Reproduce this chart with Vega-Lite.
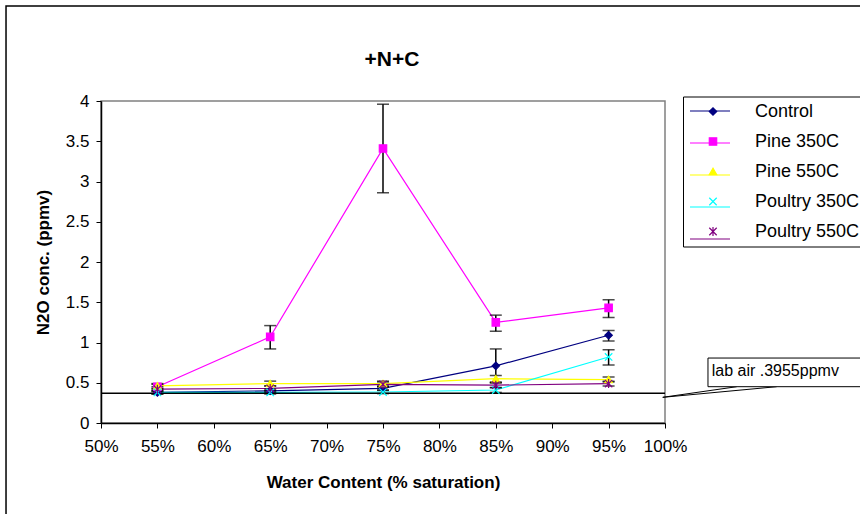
{
  "$schema": "https://vega.github.io/schema/vega-lite/v6.json",
  "width": 564,
  "height": 322,
  "autosize": {"type": "none"},
  "padding": {"left": 101, "top": 101, "right": 195, "bottom": 91},
  "background": "white",
  "title": {"text": "+N+C", "fontSize": 21, "font": "Liberation Sans", "fontWeight": "bold", "color": "black", "offset": -65, "anchor": "middle", "frame": "group", "dx": 9},
  "config": {
    "font": "Liberation Sans",
    "view": {"stroke": "#808080", "strokeWidth": 1.5},
    "legend": {"labelFontSize": 17, "labelColor": "black", "labelOffset": 4}
  },
  "resolve": {"legend": {"color": "independent", "shape": "independent", "stroke": "independent"}},
  "data": {
    "values": [
      {"series": "Control", "wc": 55, "n2o": 0.38, "lo": 0.36, "hi": 0.40},
      {"series": "Control", "wc": 65, "n2o": 0.40, "lo": 0.38, "hi": 0.42},
      {"series": "Control", "wc": 75, "n2o": 0.43, "lo": 0.41, "hi": 0.45},
      {"series": "Control", "wc": 85, "n2o": 0.71, "lo": 0.50, "hi": 0.92},
      {"series": "Control", "wc": 95, "n2o": 1.09, "lo": 1.02, "hi": 1.15},
      {"series": "Pine 350C", "wc": 55, "n2o": 0.45, "lo": 0.42, "hi": 0.48},
      {"series": "Pine 350C", "wc": 65, "n2o": 1.07, "lo": 0.92, "hi": 1.21},
      {"series": "Pine 350C", "wc": 75, "n2o": 3.41, "lo": 2.86, "hi": 3.96},
      {"series": "Pine 350C", "wc": 85, "n2o": 1.25, "lo": 1.14, "hi": 1.34},
      {"series": "Pine 350C", "wc": 95, "n2o": 1.43, "lo": 1.31, "hi": 1.53},
      {"series": "Pine 550C", "wc": 55, "n2o": 0.46, "lo": 0.43, "hi": 0.49},
      {"series": "Pine 550C", "wc": 65, "n2o": 0.49, "lo": 0.46, "hi": 0.52},
      {"series": "Pine 550C", "wc": 75, "n2o": 0.49, "lo": 0.46, "hi": 0.52},
      {"series": "Pine 550C", "wc": 85, "n2o": 0.55, "lo": 0.51, "hi": 0.59},
      {"series": "Pine 550C", "wc": 95, "n2o": 0.54, "lo": 0.51, "hi": 0.57},
      {"series": "Poultry 350C", "wc": 55, "n2o": 0.38, "lo": 0.36, "hi": 0.40},
      {"series": "Poultry 350C", "wc": 65, "n2o": 0.38, "lo": 0.36, "hi": 0.40},
      {"series": "Poultry 350C", "wc": 75, "n2o": 0.385, "lo": 0.365, "hi": 0.405},
      {"series": "Poultry 350C", "wc": 85, "n2o": 0.41, "lo": 0.38, "hi": 0.44},
      {"series": "Poultry 350C", "wc": 95, "n2o": 0.82, "lo": 0.72, "hi": 0.91},
      {"series": "Poultry 550C", "wc": 55, "n2o": 0.42, "lo": 0.39, "hi": 0.45},
      {"series": "Poultry 550C", "wc": 65, "n2o": 0.43, "lo": 0.40, "hi": 0.46},
      {"series": "Poultry 550C", "wc": 75, "n2o": 0.48, "lo": 0.45, "hi": 0.51},
      {"series": "Poultry 550C", "wc": 85, "n2o": 0.47, "lo": 0.44, "hi": 0.50},
      {"series": "Poultry 550C", "wc": 95, "n2o": 0.49, "lo": 0.46, "hi": 0.52}
    ]
  },
  "layer": [
    {
      "mark": {"type": "line", "strokeWidth": 1.2},
      "encoding": {
        "x": {
          "field": "wc", "type": "quantitative",
          "title": "Water Content (% saturation)",
          "scale": {"domain": [50, 100], "nice": false, "zero": false},
          "axis": {
            "values": [50, 55, 60, 65, 70, 75, 80, 85, 90, 95, 100],
            "labelExpr": "datum.value + '%'",
            "titleFontSize": 17, "titleFontWeight": "bold", "titleColor": "black", "titlePadding": 20,
            "labelFontSize": 17, "labelColor": "black", "labelPadding": 10, "labelFlush": false,
            "tickSize": 5, "tickColor": "black", "domainColor": "black", "domainWidth": 1.5, "grid": false
          }
        },
        "y": {
          "field": "n2o", "type": "quantitative",
          "title": "N2O conc. (ppmv)",
          "scale": {"domain": [0, 4], "nice": false, "zero": false},
          "axis": {
            "values": [0, 0.5, 1, 1.5, 2, 2.5, 3, 3.5, 4],
            "labelExpr": "'' + datum.value",
            "titleFontSize": 17, "titleFontWeight": "bold", "titleColor": "black", "titlePadding": 13,
            "labelFontSize": 17, "labelColor": "black", "labelPadding": 7, "labelFlush": false,
            "tickSize": 5, "tickColor": "black", "domainColor": "black", "domainWidth": 1.5, "grid": false
          }
        },
        "color": {
          "field": "series", "type": "nominal",
          "scale": {
            "domain": ["Control", "Pine 350C", "Pine 550C", "Poultry 350C", "Poultry 550C"],
            "range": ["#000080", "#FF00FF", "#FFFF00", "#00FFFF", "#800080"]
          },
          "legend": {
            "title": null,
            "orient": "none", "legendX": 582, "legendY": -17,
            "symbolType": "stroke", "symbolSize": 1600, "symbolStrokeWidth": 1.2,
            "strokeColor": "transparent", "fillColor": "transparent", "padding": 6,
            "rowPadding": 3, "labelOpacity": 0
          }
        }
      }
    },
    {
      "data": {"values": [{"label": "border"}]},
      "mark": {"type": "rect", "fill": null, "fillOpacity": 0, "stroke": "black", "strokeWidth": 1.5, "clip": false},
      "encoding": {
        "x": {"datum": 41.58, "type": "quantitative", "title": "Water Content (% saturation)", "scale": {"domain": [50, 100], "nice": false, "zero": false}},
        "x2": {"datum": 117.5},
        "y": {"datum": 5.18, "type": "quantitative", "title": "N2O conc. (ppmv)", "scale": {"domain": [0, 4], "nice": false, "zero": false}},
        "y2": {"datum": -1.16}
      }
    },
    {
      "data": {"values": [{"label": "lab air"}]},
      "mark": {"type": "rule", "color": "black", "strokeWidth": 1.5},
      "encoding": {
        "x": {"datum": 50, "type": "quantitative", "title": "Water Content (% saturation)", "scale": {"domain": [50, 100], "nice": false, "zero": false}},
        "x2": {"datum": 100},
        "y": {"datum": 0.37, "type": "quantitative", "title": "N2O conc. (ppmv)", "scale": {"domain": [0, 4], "nice": false, "zero": false}}
      }
    },
    {
      "data": {"values": [{"label": "callout"}]},
      "mark": {"type": "rule", "color": "black", "strokeWidth": 1},
      "encoding": {
        "x": {"datum": 99.8, "type": "quantitative", "title": "Water Content (% saturation)", "scale": {"domain": [50, 100], "nice": false, "zero": false}},
        "x2": {"datum": 106.36},
        "y": {"datum": 0.319, "type": "quantitative", "title": "N2O conc. (ppmv)", "scale": {"domain": [0, 4], "nice": false, "zero": false}},
        "y2": {"datum": 0.451}
      }
    },
    {
      "data": {"values": [{"label": "callout"}]},
      "mark": {"type": "rule", "color": "black", "strokeWidth": 1},
      "encoding": {
        "x": {"datum": 99.8, "type": "quantitative", "title": "Water Content (% saturation)", "scale": {"domain": [50, 100], "nice": false, "zero": false}},
        "x2": {"datum": 109.9},
        "y": {"datum": 0.319, "type": "quantitative", "title": "N2O conc. (ppmv)", "scale": {"domain": [0, 4], "nice": false, "zero": false}},
        "y2": {"datum": 0.451}
      }
    },
    {
      "data": {"values": [{"label": "box"}]},
      "mark": {"type": "rect", "fill": "white", "stroke": "black", "strokeWidth": 1},
      "encoding": {
        "x": {"datum": 103.81, "type": "quantitative", "title": "Water Content (% saturation)", "scale": {"domain": [50, 100], "nice": false, "zero": false}},
        "x2": {"datum": 117.5},
        "y": {"datum": 0.807, "type": "quantitative", "title": "N2O conc. (ppmv)", "scale": {"domain": [0, 4], "nice": false, "zero": false}},
        "y2": {"datum": 0.451}
      }
    },
    {
      "data": {"values": [{"label": "lab air .3955ppmv"}]},
      "mark": {"type": "text", "align": "left", "baseline": "middle", "fontSize": 16, "color": "black"},
      "encoding": {
        "x": {"datum": 104.14, "type": "quantitative", "title": "Water Content (% saturation)", "scale": {"domain": [50, 100], "nice": false, "zero": false}},
        "y": {"datum": 0.65, "type": "quantitative", "title": "N2O conc. (ppmv)", "scale": {"domain": [0, 4], "nice": false, "zero": false}},
        "text": {"field": "label"}
      }
    },
    {
      "mark": {"type": "errorbar", "ticks": {"size": 12, "thickness": 1.5, "color": "black"}, "color": "black", "thickness": 1.5},
      "encoding": {
        "x": {"field": "wc", "type": "quantitative", "title": "Water Content (% saturation)", "scale": {"domain": [50, 100], "nice": false, "zero": false}},
        "y": {"field": "lo", "type": "quantitative", "title": "N2O conc. (ppmv)", "scale": {"domain": [0, 4], "nice": false, "zero": false}},
        "y2": {"field": "hi"}
      }
    },
    {
      "mark": {"type": "point", "filled": true, "opacity": 1, "size": 55, "strokeWidth": 1.2},
      "encoding": {
        "x": {"field": "wc", "type": "quantitative", "title": "Water Content (% saturation)", "scale": {"domain": [50, 100], "nice": false, "zero": false}},
        "y": {"field": "n2o", "type": "quantitative", "title": "N2O conc. (ppmv)", "scale": {"domain": [0, 4], "nice": false, "zero": false}},
        "color": {
          "field": "series", "type": "nominal",
          "legend": {
            "title": null,
            "orient": "none", "legendX": 582, "legendY": -4.5,
            "symbolSize": 55, "symbolStrokeWidth": 1.2, "symbolOpacity": 1, "symbolOffset": 15,
            "strokeColor": "black", "fillColor": "transparent", "padding": 6,
            "rowPadding": 12, "labelFontSize": 18, "labelOffset": 33
          }
        },
        "shape": {
          "field": "series", "type": "nominal",
          "scale": {
            "domain": ["Control", "Pine 350C", "Pine 550C", "Poultry 350C", "Poultry 550C"],
            "range": ["diamond", "square", "triangle-up", "M-1,-1L1,1M-1,1L1,-1", "M-1,-1L1,1M-1,1L1,-1M0,-1.2L0,1.2"]
          },
          "legend": null
        },
        "stroke": {
          "field": "series", "type": "nominal",
          "scale": {
            "domain": ["Control", "Pine 350C", "Pine 550C", "Poultry 350C", "Poultry 550C"],
            "range": ["#000080", "#FF00FF", "#FFFF00", "#00FFFF", "#800080"]
          },
          "legend": null
        }
      }
    }
  ]
}
